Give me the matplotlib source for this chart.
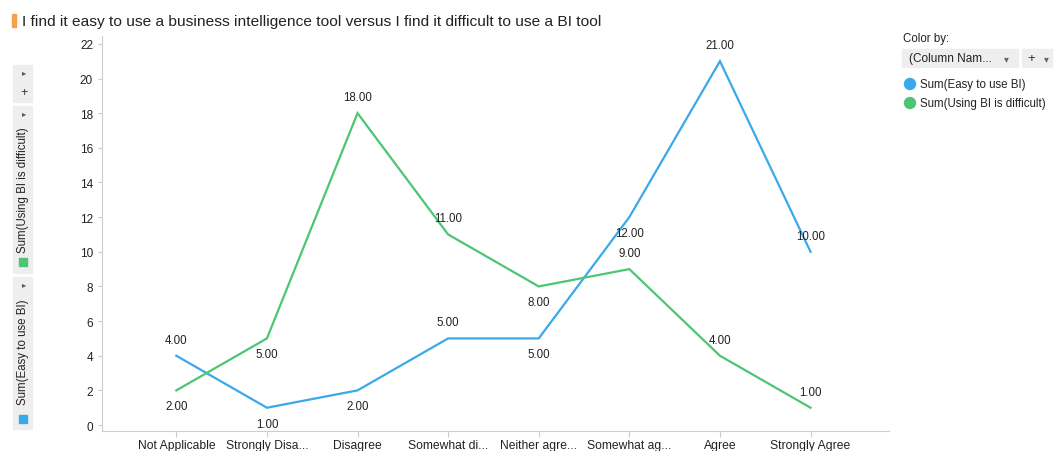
import matplotlib.pyplot as plt
from matplotlib.patches import Rectangle, Ellipse

plt.rcParams['font.family'] = ['Liberation Sans', 'DejaVu Sans']

categories = ['Not Applicable', 'Strongly Disa...', 'Disagree', 'Somewhat di...',
              'Neither agre...', 'Somewhat ag...', 'Agree', 'Strongly Agree']
easy = [4, 1, 2, 5, 5, 12, 21, 10]
difficult = [2, 5, 18, 11, 8, 9, 4, 1]
# label above (+1) or below (-1) each point
easy_pos = [1, -1, -1, 1, -1, -1, 1, 1]
diff_pos = [-1, -1, 1, 1, -1, 1, 1, 1]

blue = '#3aa9ea'
green = '#4cc673'
txt = '#222222'

fig = plt.figure(figsize=(10.54, 4.52), dpi=100)
ax = fig.add_axes([0.0968, 0.044, 0.747, 0.874])

x = list(range(len(categories)))
ax.plot(x, easy, color=blue, lw=1.6, solid_joinstyle='miter')
ax.plot(x, difficult, color=green, lw=1.6, solid_joinstyle='miter')

for vals, pos in [(easy, easy_pos), (difficult, diff_pos)]:
    for xi, v, p in zip(x, vals, pos):
        ax.annotate(f'{v:.2f}', (xi, v), xytext=(0, 11.5 * p), textcoords='offset points',
                    ha='center', va='center', fontsize=8.3, color=txt)

ax.set_xlim(-0.82, 7.87)
ax.set_ylim(-0.35, 22.45)
ax.set_yticks(range(0, 23, 2))
ax.set_xticks(x)
ax.set_xticklabels(categories, fontsize=8.7, color=txt)
ax.tick_params(axis='y', labelsize=8.5, labelcolor=txt, color='#cccccc', length=3)
ax.tick_params(axis='x', color='#cccccc', length=4, pad=1.5)
for s in ['top', 'right']:
    ax.spines[s].set_visible(False)
for s in ['left', 'bottom']:
    ax.spines[s].set_color('#cccccc')

# title
fig.patches.append(Rectangle((0.0115, 0.938), 0.004, 0.028, transform=fig.transFigure,
                             color='#f5a34a'))
fig.text(0.0205, 0.951, 'I find it easy to use a business intelligence tool versus I find it difficult to use a BI tool',
         fontsize=11.15, color=txt, va='center')

# left panel
panel = '#eeeeee'
W, H = 1054, 452
def box(x0, y0, x1, y1, fc=panel):
    fig.patches.append(Rectangle((x0 / W, 1 - y1 / H), (x1 - x0) / W, (y1 - y0) / H,
                                 transform=fig.transFigure, color=fc, zorder=0))
box(13, 66, 32, 103)
box(13, 107, 32, 274)
box(13, 278, 32, 430)
fig.text(24 / W, 1 - 74 / H, '\u25b8', fontsize=6, color='#555555', ha='center', va='center')
fig.text(24 / W, 1 - 93 / H, '+', fontsize=9, color='#333333', ha='center', va='center')
fig.text(24 / W, 1 - 115 / H, '\u25b8', fontsize=6, color='#555555', ha='center', va='center')
fig.text(24 / W, 1 - 286 / H, '\u25b8', fontsize=6, color='#555555', ha='center', va='center')
fig.text(23 / W, 1 - 190 / H, 'Sum(Using BI is difficult)', rotation=90, fontsize=8.3,
         color=txt, ha='center', va='center')
fig.text(23 / W, 1 - 352 / H, 'Sum(Easy to use BI)', rotation=90, fontsize=8.3,
         color=txt, ha='center', va='center')
box(18.5, 259, 26.5, 267, fc=green)
box(18.5, 416, 26.5, 424, fc=blue)

# right legend
fig.text(903 / W, 1 - 39 / H, 'Color by:', fontsize=8.3, color=txt, va='center')
box(902, 50, 1018, 68)
box(1022, 50, 1052, 68)
fig.text(909 / W, 1 - 59 / H, '(Column Nam...', fontsize=8.5, color=txt, va='center')
fig.text(1006 / W, 1 - 59 / H, '\u25be', fontsize=7, color='#666666', va='center', ha='center')
fig.text(1031 / W, 1 - 59 / H, '+', fontsize=9.5, color='#333333', va='center', ha='center')
fig.text(1046 / W, 1 - 59 / H, '\u25be', fontsize=7, color='#666666', va='center', ha='center')
for yy, col, lab in [(85, blue, 'Sum(Easy to use BI)'), (104, green, 'Sum(Using BI is difficult)')]:
    fig.patches.append(Ellipse((910 / W, 1 - yy / H), 11 / W, 11 / H,
                               transform=fig.transFigure, color=col))
    fig.text(920 / W, 1 - yy / H, lab, fontsize=8.3, color=txt, va='center')

fig.savefig('out.png', dpi=100)
